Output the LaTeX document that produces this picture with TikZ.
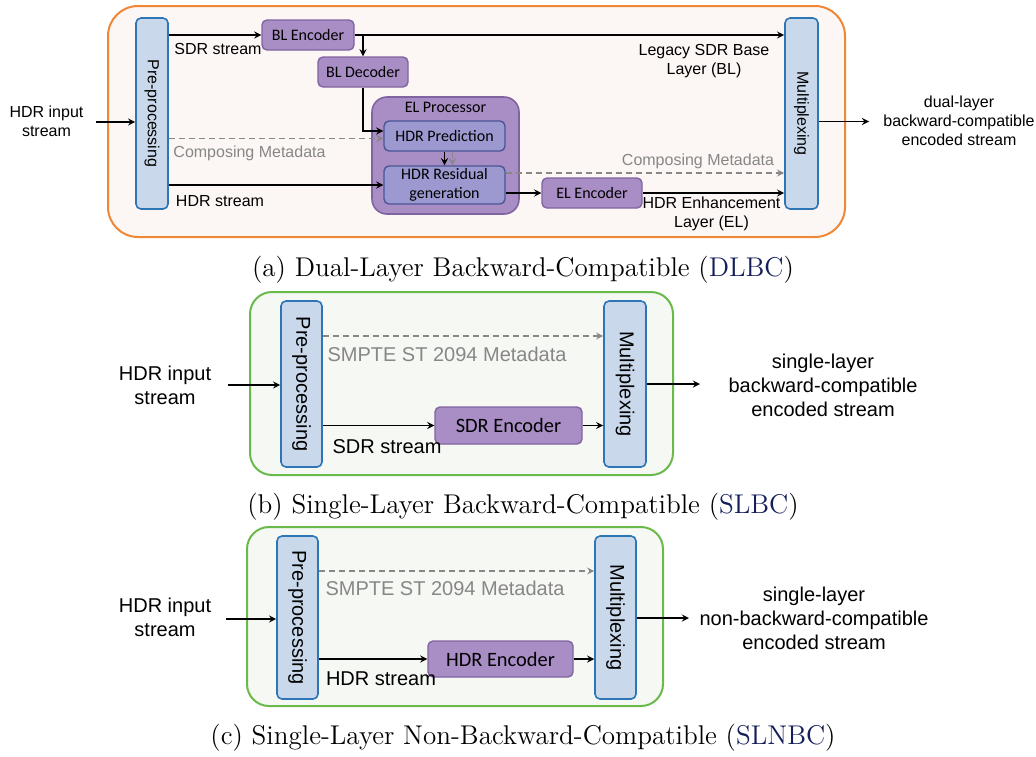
\documentclass[tikz,border=0pt]{standalone}
\usepackage{fontspec}
\usepackage{graphicx}
\usepackage{tikz}
\usetikzlibrary{positioning}
\usetikzlibrary{arrows}

\newfontfamily\arialfont{Liberation Sans}
\newfontfamily\califont{Carlito}

\definecolor{frameorange}{RGB}{240,135,55}
\definecolor{framepink}{RGB}{252,247,244}
\definecolor{framegreen}{RGB}{105,185,75}
\definecolor{greenwash}{RGB}{246,248,244}
\definecolor{boxblue}{RGB}{46,117,182}
\definecolor{lightblue}{RGB}{201,217,235}
\definecolor{encedge}{RGB}{128,100,162}
\definecolor{encfill}{RGB}{169,141,197}
\definecolor{prededge}{RGB}{75,85,150}
\definecolor{predfill}{RGB}{155,153,208}
\definecolor{metagray}{RGB}{135,135,135}
\definecolor{capblue}{RGB}{20,30,90}

\newcommand{\lblA}{\arialfont\fontsize{8}{9.5}\selectfont}
\newcommand{\lblB}{\arialfont\fontsize{10}{12}\selectfont}
\newcommand{\boxA}{\califont\fontsize{8}{9.5}\selectfont}
\newcommand{\boxB}{\califont\fontsize{10.2}{12}\selectfont}
\newcommand{\capfont}{\fontsize{13.55}{16}\selectfont}

\begin{document}
\begin{tikzpicture}[
            x = 0.5pt, y = -0.5pt, % one unit is one pixel of the source
            > = stealth, % arrow head style
            semithick % line style
        ]

        \tikzstyle{prebox}=[draw = boxblue, fill = lightblue, line width = 0.8pt,
            rounded corners = 2.5pt, inner sep = 0pt]
        \tikzstyle{encbox}=[draw = encedge, fill = encfill, line width = 0.7pt,
            rounded corners = 2.5pt, inner sep = 0pt]
        \tikzstyle{predbox}=[draw = prededge, fill = predfill, line width = 0.7pt,
            rounded corners = 2.5pt, inner sep = 0pt, font = \boxA, align = center]
        \tikzstyle{procbox}=[draw = encedge, fill = encfill, line width = 0.8pt,
            rounded corners = 7.5pt]
        \tikzstyle{meta}=[draw = metagray, dash pattern = on 3pt off 2pt]

        \useasboundingbox (0,0) rectangle (1036,756);

	% (a) dual layer
        \draw[line width = 1pt, draw = frameorange, fill = framepink, rounded corners = 15pt]
            (108,6) rectangle (845,237);

        \node[prebox, minimum width = 16pt, minimum height = 95.5pt, font = \lblA]
            (preA) at (152,113.5) {\rotatebox{-90}{Pre-processing}};
        \node[prebox, minimum width = 16.5pt, minimum height = 95.5pt, font = \lblA]
            (muxA) at (801.5,113.5) {\rotatebox{-90}{Multiplexing}};

        \node[encbox, minimum width = 46pt, minimum height = 15pt, font = \boxA]
            (blenc) at (308,35) {BL Encoder};
        \node[encbox, minimum width = 45pt, minimum height = 15pt, font = \boxA]
            (bldec) at (363,72) {BL Decoder};
        \node[procbox, minimum width = 73.5pt, minimum height = 58.5pt,
            label = {[anchor = north, font = \boxA, inner sep = 2.5pt]north:EL Processor}]
            (elproc) at (445.5,155.5) {};
        \node[predbox, minimum width = 60.5pt, minimum height = 15pt]
            (hdrpred) at (444.5,136) {HDR Prediction};
        \node[predbox, minimum width = 60.5pt, minimum height = 19pt]
            (hdrres) at (444.5,185) {HDR Residual\\generation};
        \node[encbox, minimum width = 50pt, minimum height = 15pt, font = \boxA]
            (elenc) at (592,193) {EL Encoder};

        \coordinate (inA) at (96,122);
        \coordinate (outA) at (869,121.5);
        \coordinate (metaA) at ([yshift = -1.25pt]hdrpred.west);
        \coordinate (metaB) at ([yshift = 6pt]hdrres.east);

        \draw[->] (inA) -- (inA -| preA.west);
        \draw[->] (preA.east |- blenc.west) -- (blenc.west);
        \draw[->] (blenc.east) -- (blenc.east -| muxA.west);
        \draw[->] (blenc.east -| bldec.north) -- (bldec.north);
        \draw[->] (bldec.south) |- ([yshift = 2.5pt]hdrpred.west);
        \draw[meta, ->] (preA.east |- metaA) -- (metaA);
        \draw[->] (preA.east |- hdrres.west) -- (hdrres.west);
        \draw[->] (hdrpred) -- (hdrres);
        \draw[meta, ->] ([xshift = 4pt]hdrpred.south) -- ([xshift = 4pt]hdrres.north);
        \draw[meta, ->] (metaB) -- (metaB -| muxA.west);
        \draw[->] (hdrres.east |- elenc.west) -- (elenc.west);
        \draw[->] (elenc.east) -- (elenc.east -| muxA.west);
        \draw[->] (muxA.east |- outA) -- (outA);

        \node[font = \lblA, align = center] (inlblA) at (46.5,121) {HDR input\\stream};
        \node[font = \lblA] (sdrlblA) at (218,49) {SDR stream};
        \node[font = \lblA, text = metagray] (metalblA) at (249.5,153) {Composing Metadata};
        \node[font = \lblA] (hdrlblA) at (220,201) {HDR stream};
        \node[font = \lblA, align = center] (bllbl) at (704,61) {Legacy SDR Base\\Layer (BL)};
        \node[font = \lblA, text = metagray] (metalblB) at (698,161) {Composing Metadata};
        \node[font = \lblA, align = center] (ellbl) at (711.5,214) {HDR Enhancement\\Layer (EL)};
        \node[font = \lblA, align = center] (outlblA) at (959,121)
            {dual-layer\\backward-compatible\\encoded stream};
        \node[font = \capfont] (capA) at (523,270)
            {(a) Dual-Layer Backward-Compatible (\textcolor{capblue}{DLBC})};

	% (b) single layer, backward compatible
        \draw[line width = 1pt, draw = framegreen, fill = greenwash, rounded corners = 11pt]
            (250,292) rectangle (673,475);

        \node[prebox, minimum width = 20.5pt, minimum height = 83pt, font = \lblB]
            (preB) at (301.5,384) {\rotatebox{-90}{Pre-processing}};
        \node[prebox, minimum width = 21pt, minimum height = 83pt, font = \lblB]
            (muxB) at (625,384) {\rotatebox{-90}{Multiplexing}};
        \node[encbox, minimum width = 73.5pt, minimum height = 18.5pt, font = \boxB]
            (sdrenc) at (508.5,425.5) {SDR Encoder};

        \coordinate (inB) at (228,385);
        \coordinate (metaC) at (450,336);
        \coordinate (outB) at (700,384);

        \draw[->] (inB) -- (inB -| preB.west);
        \draw[meta, ->] (metaC -| preB.east) -- (metaC -| muxB.west);
        \draw[->] (preB.east |- sdrenc.west) -- (sdrenc.west);
        \draw[->] (sdrenc.east) -- (sdrenc.east -| muxB.west);
        \draw[->] (muxB.east |- outB) -- (outB);

        \node[font = \lblB, align = center] (inlblB) at (165,385) {HDR input\\stream};
        \node[font = \lblB, text = metagray] (metalblC) at (447,354) {SMPTE ST 2094 Metadata};
        \node[font = \lblB] (sdrlblB) at (387,447) {SDR stream};
        \node[font = \lblB, align = center] (outlblB) at (823,385)
            {single-layer\\backward-compatible\\encoded stream};
        \node[font = \capfont] (capB) at (523,507)
            {(b) Single-Layer Backward-Compatible (\textcolor{capblue}{SLBC})};

	% (c) single layer, non backward compatible
        \draw[line width = 1pt, draw = framegreen, fill = greenwash, rounded corners = 11pt]
            (247,527) rectangle (663,706);

        \node[prebox, minimum width = 20.5pt, minimum height = 81.5pt, font = \lblB]
            (preC) at (297.5,617.5) {\rotatebox{-90}{Pre-processing}};
        \node[prebox, minimum width = 20.5pt, minimum height = 81.5pt, font = \lblB]
            (muxC) at (615.5,617.5) {\rotatebox{-90}{Multiplexing}};
        \node[encbox, minimum width = 72.5pt, minimum height = 18pt, font = \boxB]
            (hdrenc) at (500.5,659) {HDR Encoder};

        \coordinate (inC) at (226,619);
        \coordinate (metaD) at (450,571);
        \coordinate (outC) at (689,618);

        \draw[->] (inC) -- (inC -| preC.west);
        \draw[meta, ->] (metaD -| preC.east) -- (metaD -| muxC.west);
        \draw[->] (preC.east |- hdrenc.west) -- (hdrenc.west);
        \draw[->] (hdrenc.east) -- (hdrenc.east -| muxC.west);
        \draw[->] (muxC.east |- outC) -- (outC);

        \node[font = \lblB, align = center] (inlblC) at (165,617) {HDR input\\stream};
        \node[font = \lblB, text = metagray] (metalblD) at (445,588) {SMPTE ST 2094 Metadata};
        \node[font = \lblB] (hdrlblC) at (381,679) {HDR stream};
        \node[font = \lblB, align = center] (outlblC) at (814,618)
            {single-layer\\non-backward-compatible\\encoded stream};
        \node[font = \capfont] (capC) at (523,738)
            {(c) Single-Layer Non-Backward-Compatible (\textcolor{capblue}{SLNBC})};

  \end{tikzpicture}
\end{document}
